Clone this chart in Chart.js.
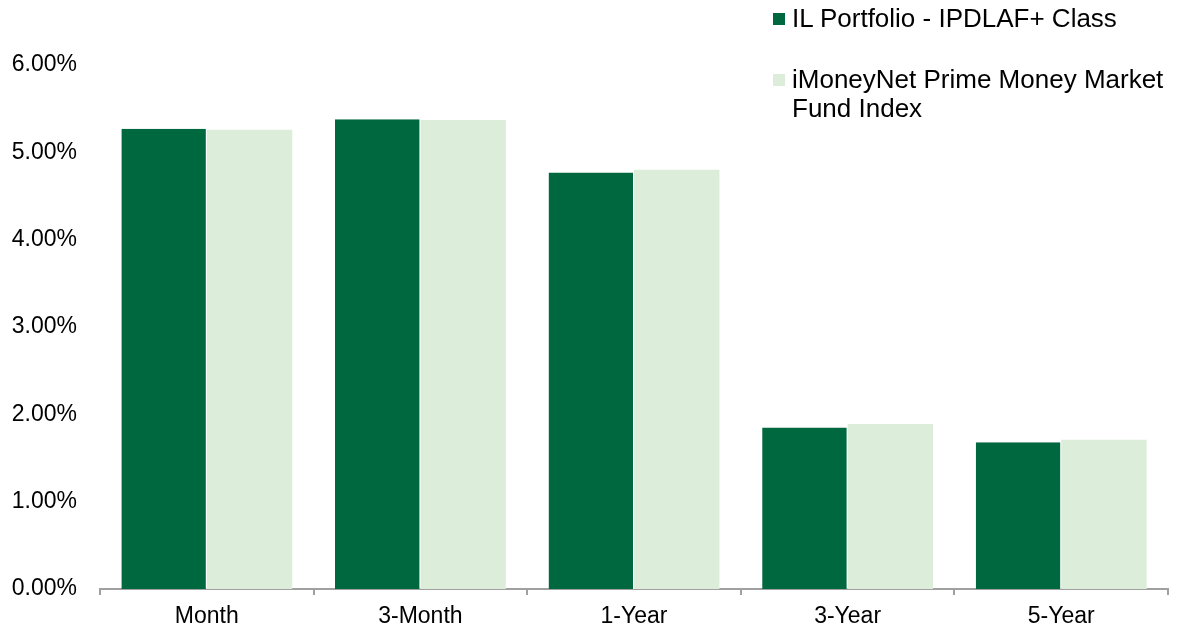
<!DOCTYPE html>
<html>
<head>
<meta charset="utf-8">
<script src="https://cdn.jsdelivr.net/npm/chart.js@4/dist/chart.umd.min.js"></script>
<style>
  html, body { margin: 0; padding: 0; background: #fff; }
  #wrap { position: relative; width: 1186px; height: 630px; }
  #legend { position: absolute; left: 773px; top: 4px; font-family: "Liberation Sans", Arial, sans-serif; font-size: 26px; color: #000; }
  .item { display: flex; align-items: flex-start; margin-bottom: 32px; }
  .box { width: 12px; height: 12px; margin-top: 9px; margin-right: 7px; flex: none; }
  .txt { width: 386px; line-height: 29px; }
</style>
</head>
<body>
<div id="wrap">
  <canvas id="chart"></canvas>
  <div id="legend"></div>
</div>
<script>
const categories = ['Month', '3-Month', '1-Year', '3-Year', '5-Year'];
const portfolio = [5.27, 5.38, 4.77, 1.85, 1.68];
const moneyNet = [5.26, 5.37, 4.80, 1.89, 1.71];
const seriesNames = ['IL Portfolio - IPDLAF+ Class', 'iMoneyNet Prime Money Market Fund Index'];
const colors = ['#00683f', '#dcedda'];

const fontFamily = '"Liberation Sans", Arial, sans-serif';
const ctx = document.getElementById('chart');

const chart = new Chart(ctx, {
  type: 'bar',
  data: {
    labels: categories,
    datasets: [
      { label: seriesNames[0], data: portfolio, backgroundColor: colors[0], borderColor: '#ffffff', borderWidth: { right: 1 }, borderSkipped: false },
      { label: seriesNames[1], data: moneyNet, backgroundColor: colors[1], borderWidth: 0 },
    ],
  },
  options: {
    responsive: true,
    maintainAspectRatio: false,
    animation: false,
    layout: { padding: { top: 65, right: 18, left: 0, bottom: 0 } },
    categoryPercentage: 0.8,
    barPercentage: 1.0,
    plugins: { legend: { display: false }, tooltip: { enabled: false } },
    scales: {
      x: {
        offset: true,
        grid: { offset: true, drawOnChartArea: false, drawTicks: true, tickLength: 6, color: '#a0a0a0', lineWidth: 2 },
        border: { display: true, color: '#a0a0a0', width: 2 },
        ticks: { color: '#000', font: { family: fontFamily, size: 23 }, padding: 8 },
        afterFit: (s) => { s.height = 41; },
      },
      y: {
        min: 0,
        max: 6,
        grid: { display: false },
        border: { display: false },
        ticks: {
          stepSize: 1,
          color: '#000',
          padding: 15,
          font: { family: fontFamily, size: 23 },
          callback: (v) => v.toFixed(2) + '%',
        },
        afterFit: (s) => { s.width = 100; },
      },
    },
  },
});

const legend = document.getElementById('legend');
chart.data.datasets.forEach((ds) => {
  const item = document.createElement('div');
  item.className = 'item';
  const box = document.createElement('div');
  box.className = 'box';
  box.style.background = ds.backgroundColor;
  const txt = document.createElement('div');
  txt.className = 'txt';
  txt.textContent = ds.label;
  item.appendChild(box);
  item.appendChild(txt);
  legend.appendChild(item);
});
</script>
</body>
</html>
